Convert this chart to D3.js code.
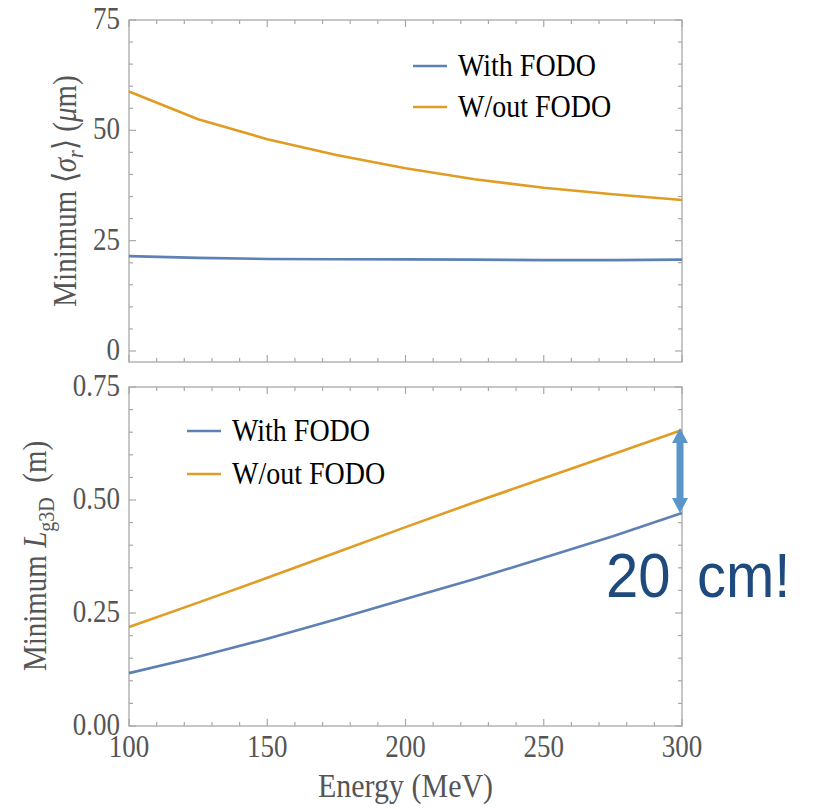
<!DOCTYPE html>
<html lang="en">
<head>
<meta charset="UTF-8">
<title>Minimum beam size and gain length</title>
<script src="https://d3js.org/d3.v7.min.js"></script>
<style>
  body { margin: 0; background: #fff; }
  svg { display: block; }
</style>
</head>
<body>
<svg width="813" height="809"></svg>
<script>
// energies (MeV) shared by both panels
const energy = [100, 125, 150, 175, 200, 225, 250, 275, 300];

// top panel: minimum <sigma_r> (um)
const sigmaWith    = [21.5, 21.1, 20.85, 20.8, 20.75, 20.7, 20.6, 20.6, 20.7];
const sigmaWithout = [58.8, 52.5, 48.0, 44.4, 41.4, 38.9, 37.0, 35.5, 34.2];

// bottom panel: minimum L_g3D (m)
const lengthWith    = [0.117, 0.153, 0.193, 0.236, 0.281, 0.325, 0.372, 0.420, 0.471];
const lengthWithout = [0.219, 0.273, 0.328, 0.384, 0.440, 0.495, 0.548, 0.601, 0.655];

const seriesNames = ["With FODO", "W/out FODO"];
const xTicks = [100, 150, 200, 250, 300];
const topTicks = [0, 25, 50, 75];
const bottomTicks = [0, 0.25, 0.5, 0.75];

const blue = "#5e81b5", orange = "#e19c24";
const frameColor = "#a8a8a8", labelColor = "#555";
const serif = "'Liberation Serif', 'Times New Roman', serif";
const stretch = 1.15; // the picture's text is a bit taller than wide

const svg = d3.select("svg");
const left = 129, right = 682;

const x = d3.scaleLinear().domain([100, 300]).range([left, right]);
const yTop = d3.scaleLinear().domain([0, 75]).range([351, 20]);
const yBot = d3.scaleLinear().domain([0, 0.75]).range([726, 387]);

// text placed at (tx,ty), stretched vertically
function label(g, tx, ty, extra) {
    return g.append("text")
        .attr("transform", `translate(${tx},${ty}) ${extra || ""} scale(1,${stretch})`);
}

// one framed panel with inward ticks on all sides
function panel(y, yMajor, yMinorStep, fmt, frameTop, frameBottom, showX) {
    const g = svg.append("g");
    g.append("rect")
        .attr("x", left).attr("y", frameTop)
        .attr("width", right - left).attr("height", frameBottom - frameTop)
        .attr("fill", "none").attr("stroke", frameColor).attr("stroke-width", 1.3);

    const xMinor = d3.range(100, 301, 10);
    const yMinor = d3.range(0, y.domain()[1] + 1e-9, yMinorStep);

    // x ticks, bottom and top
    xMinor.forEach(v => {
        const len = xTicks.includes(v) ? 7 : 4;
        g.append("line").attr("x1", x(v)).attr("x2", x(v))
            .attr("y1", frameBottom).attr("y2", frameBottom - len)
            .attr("stroke", frameColor).attr("stroke-width", 1.2);
        g.append("line").attr("x1", x(v)).attr("x2", x(v))
            .attr("y1", frameTop).attr("y2", frameTop + len)
            .attr("stroke", frameColor).attr("stroke-width", 1.2);
    });
    // y ticks, left and right
    yMinor.forEach(v => {
        const major = yMajor.some(m => Math.abs(m - v) < 1e-6);
        const len = major ? 7 : 4;
        g.append("line").attr("x1", left).attr("x2", left + len)
            .attr("y1", y(v)).attr("y2", y(v))
            .attr("stroke", frameColor).attr("stroke-width", 1.2);
        g.append("line").attr("x1", right).attr("x2", right - len)
            .attr("y1", y(v)).attr("y2", y(v))
            .attr("stroke", frameColor).attr("stroke-width", 1.2);
    });

    // y tick labels
    yMajor.forEach(d => {
        label(g, 120, y(d) + 9)
            .attr("text-anchor", "end")
            .style("font-family", serif).style("font-size", "27px")
            .style("fill", labelColor)
            .text(fmt(d));
    });

    if (showX) {
        xTicks.forEach(d => {
            label(g, x(d), frameBottom + 31)
                .attr("text-anchor", "middle")
                .style("font-family", serif).style("font-size", "27px")
                .style("fill", labelColor)
                .text(d);
        });
    }
    return g;
}

panel(yTop, topTicks, 5, d => d, 20, 362, false);
panel(yBot, bottomTicks, 0.05, d3.format(".2f"), 387, 726, true);

// lines
function drawLine(y, values, color) {
    const line = d3.line().x((d, i) => x(energy[i])).y(d => y(d));
    svg.append("path").datum(values)
        .attr("d", line)
        .attr("fill", "none")
        .attr("stroke", color)
        .attr("stroke-width", 2.6)
        .attr("stroke-linejoin", "round");
}
drawLine(yTop, sigmaWithout, orange);
drawLine(yTop, sigmaWith, blue);
drawLine(yBot, lengthWithout, orange);
drawLine(yBot, lengthWith, blue);

// legends
function legend(x0, y0, gap) {
    [blue, orange].forEach((c, i) => {
        const yy = y0 + i * gap;
        svg.append("line").attr("x1", x0).attr("x2", x0 + 34)
            .attr("y1", yy).attr("y2", yy)
            .attr("stroke", c).attr("stroke-width", 2.6);
        label(svg, x0 + 45, yy + 10)
            .style("font-family", serif).style("font-size", "28px")
            .style("fill", "#000")
            .text(seriesNames[i]);
    });
}
legend(413, 66, 41);
legend(187, 431, 43);

// y axis labels
const topLabel = svg.append("text")
    .attr("transform", `translate(76,191) rotate(-90) scale(1,${stretch})`)
    .attr("text-anchor", "middle")
    .style("font-family", serif).style("font-size", "29px")
    .style("fill", labelColor);
topLabel.append("tspan").text("Minimum \u27E8");
topLabel.append("tspan").style("font-style", "italic").text("\u03C3");
topLabel.append("tspan").style("font-style", "italic").style("font-size", "20px").attr("dy", 6).text("r");
topLabel.append("tspan").attr("dy", -6).text("\u27E9 (");
topLabel.append("tspan").style("font-style", "italic").text("\u03BC");
topLabel.append("tspan").text("m)");

const botLabel = svg.append("text")
    .attr("transform", `translate(46,556) rotate(-90) scale(1,${stretch})`)
    .attr("text-anchor", "middle")
    .style("font-family", serif).style("font-size", "29px")
    .style("fill", labelColor);
botLabel.append("tspan").text("Minimum ");
botLabel.append("tspan").style("font-style", "italic").text("L");
botLabel.append("tspan").style("font-size", "20px").attr("dy", 7).text("g3D");
botLabel.append("tspan").attr("dy", -7).text("\u00A0 (m)");

// x axis label
label(svg, (left + right) / 2, 797)
    .attr("text-anchor", "middle")
    .style("font-family", serif).style("font-size", "30px")
    .style("fill", labelColor)
    .text("Energy (MeV)");

// double arrow between the two curves at 300 MeV
const ax = x(300) - 2;
const aTop = yBot(lengthWithout[lengthWithout.length - 1]) - 2;
const aBot = yBot(lengthWith[lengthWith.length - 1]);
const head = 15, hw = 8, sw = 3.5;
const arrowPts = [
    [ax, aTop], [ax + hw, aTop + head], [ax + sw, aTop + head],
    [ax + sw, aBot - head], [ax + hw, aBot - head], [ax, aBot],
    [ax - hw, aBot - head], [ax - sw, aBot - head], [ax - sw, aTop + head],
    [ax - hw, aTop + head]
];
svg.append("polygon")
    .attr("points", arrowPts.map(p => p.join(",")).join(" "))
    .attr("fill", "#5b96cb");

// annotation
const note = svg.append("text")
    .attr("transform", "translate(0,597) scale(1,1.08)")
    .style("font-family", "'Liberation Sans', Arial, sans-serif")
    .style("font-size", "58px")
    .style("fill", "#1f4a7e");
note.append("tspan").attr("x", 606).text("20");
note.append("tspan").attr("x", 697).text("cm!");
</script>
</body>
</html>
